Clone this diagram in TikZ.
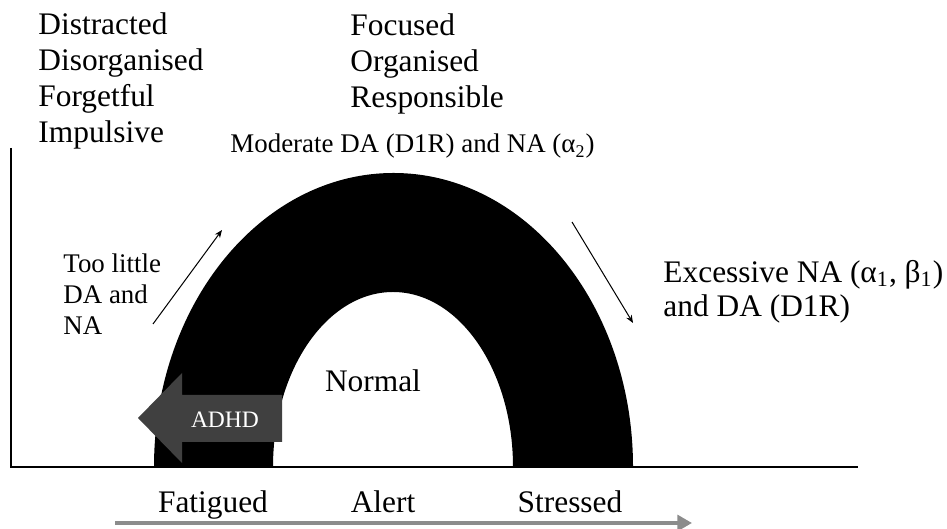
\documentclass[tikz,border=0pt]{standalone}
\usepackage{fontspec}
\setmainfont{Liberation Serif}
\usetikzlibrary{arrows.meta}
\definecolor{adhdgray}{HTML}{404040}
\definecolor{scalegray}{HTML}{8C8C8C}
\tikzset{
    bigtext/.style={font=\fontsize{14}{16.1}\selectfont, inner sep=0pt},
    smalltext/.style={font=\fontsize{12}{14}\selectfont, inner sep=0pt},
    axisline/.style={line width=1.3pt},
    trend/.style={line width=0.45pt, -{Stealth[length=3.5pt,width=2.8pt]}},
    scalearrow/.style={scalegray, line width=1.6pt, -{Triangle[length=6.5pt,width=7pt]}}
}

\begin{document}
\begin{tikzpicture}[x=0.446pt,y=0.446pt]
        \useasboundingbox (0,0) rectangle (947,529);
        \coordinate (top) at (11,381);
        \coordinate (o) at (11,62);
        \coordinate (end) at (858,62);
        \draw[axisline] (top) -- (o) -- (end); % Axes.

        \fill (154,62) arc[start angle=180, end angle=0, x radius=239.5, y radius=294]
            -- (513,62) arc[start angle=0, end angle=180, x radius=120, y radius=175] -- cycle; % Arch.

        \fill[adhdgray] (138,111) -- (182,156) -- (182,134) -- (282,134) -- (282,87) -- (182,87) -- (182,66) -- cycle; % ADHD arrow.
        \node[font=\fontsize{10.5}{12}\selectfont, text=white, inner sep=0pt] (adhd) at (225,109) {ADHD};

        \coordinate (up1) at (153,205);
        \coordinate (up2) at (222,299);
        \draw[trend] (up1) -- (up2);
        \coordinate (down1) at (572,307);
        \coordinate (down2) at (633,206);
        \draw[trend] (down1) -- (down2);

        % Multi-line nodes sit on the baseline of their last line.
        \node[bigtext, anchor=base west, align=left] (traits) at (38,386) {Distracted\\Disorganised\\Forgetful\\Impulsive};
        \node[bigtext, anchor=base west, align=left] (goals) at (350,421) {Focused\\Organised\\Responsible};
        \node[smalltext, anchor=base west] (moderate) at (230,376) {Moderate DA (D1R) and NA (α\textsubscript{2})};
        \node[smalltext, anchor=base west, align=left] (little) at (63,194) {Too little\\DA and\\NA};
        \node[bigtext, anchor=base west, align=left, font=\fontsize{14}{15.6}\selectfont] (excess) at (663,212) {Excessive NA (α\textsubscript{1}, β\textsubscript{1})\\and DA (D1R)};
        \node[bigtext, anchor=base] (normal) at (373,137) {Normal};

        \node[bigtext, anchor=base] (fatigued) at (213,16) {Fatigued};
        \node[bigtext, anchor=base] (alert) at (383,16) {Alert};
        \node[bigtext, anchor=base] (stressed) at (570,16) {Stressed};

        \coordinate (low) at (115,6);
        \coordinate (high) at (692,6);
        \draw[scalearrow] (low) -- (high);
    \end{tikzpicture}
\end{document}
